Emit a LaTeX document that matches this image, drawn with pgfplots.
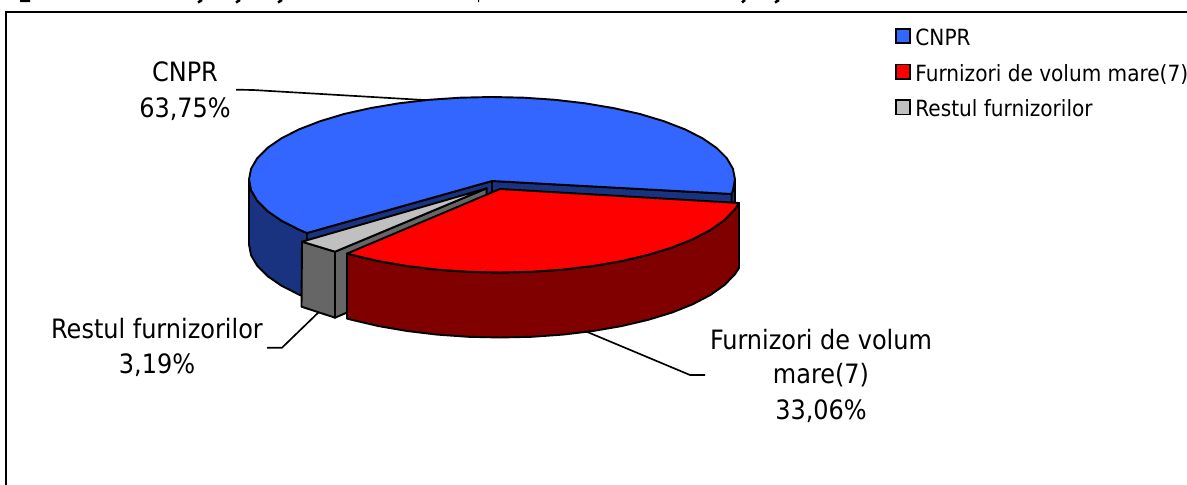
\documentclass[border=0pt]{standalone}
\usepackage{fontspec}
\setmainfont{DejaVu Sans Condensed}
\usepackage{pgfplots}
\pgfplotsset{compat=1.18}

\definecolor{bluetop}{HTML}{3366FF}
\definecolor{blueside}{HTML}{1A3380}
\definecolor{redtop}{HTML}{FF0000}
\definecolor{redside}{HTML}{800000}
\definecolor{greytop}{HTML}{C0C0C0}
\definecolor{greyside}{HTML}{666666}

\pgfplotsset{
  slice/.style={draw=black, line width=1.15pt, line join=round, no markers, forget plot},
  leader/.style={draw=black, line width=1pt, no markers, forget plot},
}
\tikzset{lab/.style={anchor=base, font=\fontsize{16}{18}\selectfont, inner sep=0pt, text=black}}

\begin{document}
\begin{tikzpicture}
\useasboundingbox (0,0) rectangle (712.2pt,291pt);
\begin{axis}[
    at={(0,0)}, anchor=south west,
    x=0.6pt, y=0.6pt,
    xmin=0, xmax=1187, ymin=0, ymax=485,
    y dir=reverse,
    hide axis,
    clip=true,
    legend cell align=left,
    legend style={at={(axis cs:895,28)}, anchor=north west, draw=none, fill=none,
        inner sep=0pt, outer sep=0pt, row sep=10.9pt,
        font=\fontsize{13.4}{15}\selectfont,
        nodes={inner sep=0pt, outer sep=0pt, text depth=0pt}},
    legend image code/.code={
        \draw[#1, draw=black, line width=1.15pt] (0.5pt,-3.6pt) rectangle (9pt,4.9pt);
        \path (12pt,0pt);
    },
]
% outer frame of the chart area
\addplot[draw=black, line width=1.4pt, no markers, forget plot] coordinates {(6,490) (6,12.3) (1192,12.3)};

% tails of the title line, the rest of it is outside the picture
\addplot[draw=black, line width=1.5pt, no markers, forget plot, unbounded coords=jump] coordinates {
    (20,1) (30,1) (nan,nan) (198,2.5) (202,0) (nan,nan) (236,2.5) (240,0) (nan,nan)
    (278,2.5) (282,0) (nan,nan) (478,1) (479,1) (nan,nan) (742,2.5) (745,0) (nan,nan) (775,2.5) (779,0)};

% leader lines
\addplot[leader] coordinates {(236,89.7) (253,90) (432,100.5)};
\addplot[leader] coordinates {(267,347.7) (282,347.7) (322,309)};
\addplot[leader] coordinates {(585,331) (690,375) (705,375)};

% CNPR 63,75%: side and cut faces
\addplot[slice, fill=blueside] coordinates {(249,179.5) (251.1,190.3) (257.3,200.9) (267.5,211.1) (281.6,220.8) (299.2,229.7) (307,233) (307,298) (299.2,294.7) (281.6,285.8) (267.5,276.1) (257.3,265.9) (251.1,255.3) (249,244.5)} --cycle;
\addplot[slice, fill=blueside] coordinates {(731.5,194) (732.9,190.3) (735,179.5) (735,244.5) (732.9,255.3) (731.5,259)} --cycle;
\addplot[slice, fill=blueside] coordinates {(492,181) (731.5,194) (731.5,259) (492,246)} --cycle;
\addplot[slice, fill=blueside] coordinates {(492,181) (307,233) (307,298) (492,246)} --cycle;
% CNPR top
\addplot[slice, fill=bluetop] coordinates {
    (492,181) (731.5,194) (732.9,190.3) (735,179.5) (732.9,168.7) (726.7,158.1) (716.5,147.9)
    (702.4,138.2) (684.8,129.3) (663.8,121.2) (639.9,114) (613.5,108.1) (585,103.3) (554.9,99.8)
    (523.7,97.7) (492,97) (460.3,97.7) (429.1,99.8) (399,103.3) (370.5,108.1) (344.1,114)
    (320.2,121.2) (299.2,129.3) (281.6,138.2) (267.5,147.9) (257.3,158.1) (251.1,168.7) (249,179.5)
    (251.1,190.3) (257.3,200.9) (267.5,211.1) (281.6,220.8) (299.2,229.7) (307,233)} --cycle;

% Restul furnizorilor 3,19%
\addplot[slice, fill=greyside] coordinates {(302,241.7) (335,251.7) (335,317.7) (301.5,306.7)} --cycle;
\addplot[slice, fill=greyside] coordinates {(335,251.7) (486.7,188.3) (486.7,253) (335,317.7)} --cycle;
\addplot[slice, fill=greytop] coordinates {(486.7,188.3) (302,241.7) (335,251.7)} --cycle;

% Furnizori de volum mare(7) 33,06%
\addplot[slice, fill=redside] coordinates {
    (739,203) (734.7,209.5) (724.5,220) (710.4,230) (692.8,239.2) (671.8,247.6) (647.9,254.9)
    (621.5,261.1) (593,266) (562.9,269.6) (531.7,271.8) (500,272.5) (468.3,271.8) (437.1,269.6)
    (407,266) (378.5,261.1) (352.1,254.9) (347,253.6)
    (347,318.6) (352.1,319.9) (378.5,326.1) (407,331) (437.1,334.6) (468.3,336.8) (500,337.5)
    (531.7,336.8) (562.9,334.6) (593,331) (621.5,326.1) (647.9,319.9) (671.8,312.6) (692.8,304.2)
    (710.4,295) (724.5,285) (734.7,274.5) (739,268)} --cycle;
\addplot[slice, fill=redtop] coordinates {
    (500,189) (739,203) (734.7,209.5) (724.5,220) (710.4,230) (692.8,239.2) (671.8,247.6) (647.9,254.9)
    (621.5,261.1) (593,266) (562.9,269.6) (531.7,271.8) (500,272.5) (468.3,271.8) (437.1,269.6)
    (407,266) (378.5,261.1) (352.1,254.9) (347,253.6)} --cycle;

% data labels
\node[lab] at (axis cs:185,81.7) {CNPR};
\node[lab] at (axis cs:185,118) {63,75\%};
\node[lab] at (axis cs:157,338.3) {Restul furnizorilor};
\node[lab] at (axis cs:157,373.5) {3,19\%};
\node[lab] at (axis cs:821,350) {Furnizori de volum};
\node[lab] at (axis cs:821,384) {mare(7)};
\node[lab] at (axis cs:821,420) {33,06\%};

\addlegendimage{fill=bluetop}
\addlegendentry{CNPR}
\addlegendimage{fill=redtop}
\addlegendentry{Furnizori de volum mare(7)}
\addlegendimage{fill=greytop}
\addlegendentry{Restul furnizorilor}
\end{axis}
\end{tikzpicture}
\end{document}
